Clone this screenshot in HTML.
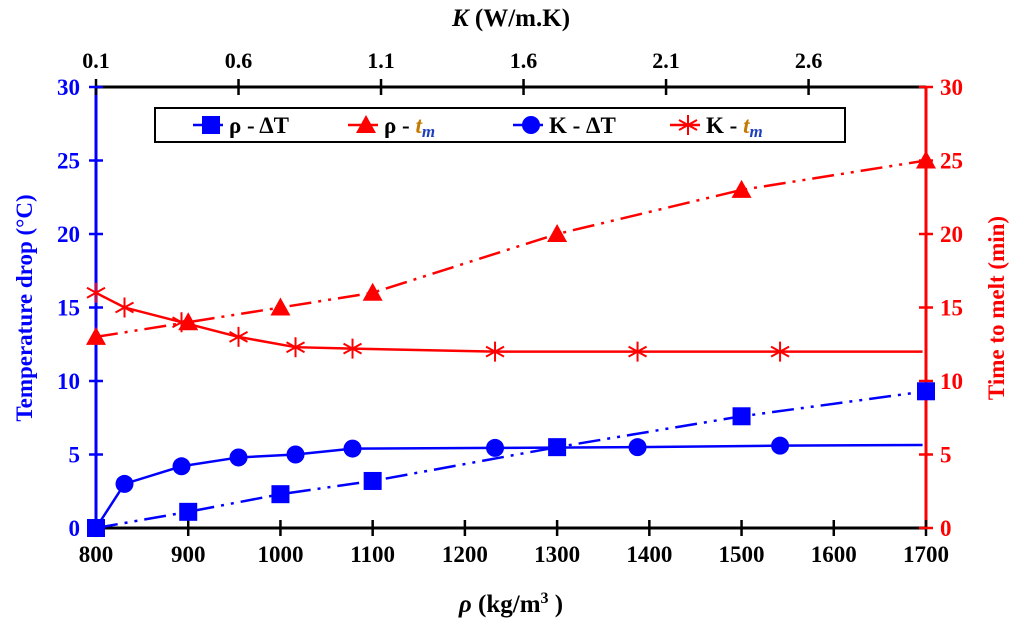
<!DOCTYPE html>
<html><head><meta charset="utf-8"><style>
body{margin:0;background:#fff;width:1024px;height:630px;overflow:hidden}
text{font-family:"Liberation Serif",serif;font-weight:bold}
</style></head><body>
<svg id="c" width="1024" height="630"></svg>
<script>
const rhoX=[800,900,1000,1100,1300,1500,1700];
const rhoDT=[0,1.1,2.3,3.2,5.5,7.6,9.3];
const rhoTm=[13,14,15,16,20,23,25];
const kX=[0.1,0.2,0.4,0.6,0.8,1.0,1.5,2.0,2.5,3.0];
const kDT=[0,3,4.2,4.8,5,5.4,5.45,5.5,5.6,5.65];
const kTm=[16,15,14,13,12.3,12.2,12,12,12,12];
const kMarks=[1,1,1,1,1,1,1,1,1,0];
const xTicks=[800,900,1000,1100,1200,1300,1400,1500,1600,1700];
const kTicks=[0.1,0.6,1.1,1.6,2.1,2.6];
const yTicks=[0,5,10,15,20,25,30];
const L=96,R=926,T=87,B=528;
const sx=v=>L+(v-800)/900*(R-L);
const kx=v=>L+(v-0.1)/2.912*(R-L);
const sy=v=>B-v/30*(B-T);
const svg=document.getElementById('c');const NS='http://www.w3.org/2000/svg';
function el(t,a,txt){const e=document.createElementNS(NS,t);for(const k in a)e.setAttribute(k,a[k]);if(txt!=null)e.textContent=txt;svg.appendChild(e);return e;}
let e;
e=el('line',{x1:L,y1:B,x2:R,y2:B,stroke:'#000','stroke-width':3});

e=el('line',{x1:L,y1:T,x2:R,y2:T,stroke:'#000','stroke-width':3});

e=el('line',{x1:L,y1:T,x2:L,y2:B,stroke:'#00f','stroke-width':3});

e=el('line',{x1:R,y1:T,x2:R,y2:B,stroke:'#f00','stroke-width':3});

xTicks.forEach(v=>{const x=sx(v);el('line',{x1:x,y1:B-8,x2:x,y2:B+8,stroke:'#000','stroke-width':2.5});
e=el('text',{x:x,y:B+34,'text-anchor':'middle','font-size':23,fill:'#000'},v);
});
kTicks.forEach(v=>{const x=kx(v);el('line',{x1:x,y1:T-8,x2:x,y2:T+8,stroke:'#000','stroke-width':2.5});
e=el('text',{x:x,y:T-19,'text-anchor':'middle','font-size':22,fill:'#000'},v.toFixed(1));
});
yTicks.forEach(v=>{const y=sy(v);
el('line',{x1:L-7,y1:y,x2:L+7,y2:y,stroke:'#00f','stroke-width':2.5});
el('line',{x1:R-7,y1:y,x2:R+7,y2:y,stroke:'#f00','stroke-width':2.5});
e=el('text',{x:L-16,y:y+8,'text-anchor':'end','font-size':23,fill:'#00f'},v);

e=el('text',{x:R+14,y:y+8,'text-anchor':'start','font-size':23,fill:'#f00'},v);
});
e=el('text',{x:511,y:612,'text-anchor':'middle','font-size':25,fill:'#000'});
e.innerHTML='<tspan font-style="italic">ρ</tspan> (kg/m<tspan dy="-9" font-size="16">3</tspan><tspan dy="9"> )</tspan>';

e=el('text',{x:511,y:26,'text-anchor':'middle','font-size':25,fill:'#000'});
e.innerHTML='<tspan font-style="italic">K</tspan>  (W/m.K)';

e=el('text',{x:0,y:0,'text-anchor':'middle','font-size':23,fill:'#00f',transform:'translate(32,308) rotate(-90)'},'Temperature drop  (°C)');

e=el('text',{x:0,y:0,'text-anchor':'middle','font-size':23,fill:'#f00',transform:'translate(1004,308) rotate(-90)'},'Time to melt (min)');

const dash='22 7 3 7 3 7';
function pts(xs,ys,fx){return xs.map((v,i)=>fx(v)+','+sy(ys[i])).join(' ');}
e=el('polyline',{points:pts(rhoX,rhoDT,sx),fill:'none',stroke:'#00f','stroke-width':2.5,'stroke-dasharray':dash});

e=el('polyline',{points:pts(rhoX,rhoTm,sx),fill:'none',stroke:'#f00','stroke-width':2.5,'stroke-dasharray':dash});

e=el('polyline',{points:pts(kX,kDT,kx),fill:'none',stroke:'#00f','stroke-width':2.5});

e=el('polyline',{points:pts(kX,kTm,kx),fill:'none',stroke:'#f00','stroke-width':2.5});

function sq(x,y){return el('rect',{x:x-9,y:y-9,width:18,height:18,fill:'#00f'});}
function tri(x,y){return el('polygon',{points:`${x},${y-10} ${x-10},${y+8} ${x+10},${y+8}`,fill:'#f00'});}
function circ(x,y){return el('circle',{cx:x,cy:y,r:9,fill:'#00f'});}
function star(x,y){const g=document.createElementNS(NS,'path');g.setAttribute('d',`M${x},${y-10}V${y+10}M${x-9},${y-5}L${x+9},${y+5}M${x+9},${y-5}L${x-9},${y+5}`);g.setAttribute('stroke','#f00');g.setAttribute('stroke-width',2);svg.appendChild(g);return g;}
rhoX.forEach((v,i)=>{e=sq(sx(v),sy(rhoDT[i]));
e=tri(sx(v),sy(rhoTm[i]));});
kX.forEach((v,i)=>{if(!kMarks[i])return;e=circ(kx(v),sy(kDT[i]));
e=star(kx(v),sy(kTm[i]));});
e=el('rect',{x:155,y:108,width:690,height:34,fill:'#fff',stroke:'#000','stroke-width':2});

const lg=[[215,'sq','#00f','ρ - ΔT'],[370,'tri','#f00','ρ - '],[535,'circ','#00f','K - ΔT'],[692,'star','#f00','K - ']];
lg.forEach((l,i)=>{const x=l[0];el('line',{x1:x-22,y1:125,x2:x+8,y2:125,stroke:l[2],'stroke-width':2.5});
({sq,tri,circ,star})[l[1]](x-4,125);
e=el('text',{x:x+14,y:133,'font-size':23,fill:'#000'});
e.innerHTML=l[3]+(i%2? '<tspan font-style="italic" fill="#c47a00">t</tspan><tspan font-style="italic" font-size="17" dy="4" fill="#1f3fbf">m</tspan>':'');
});
</script></body></html>
